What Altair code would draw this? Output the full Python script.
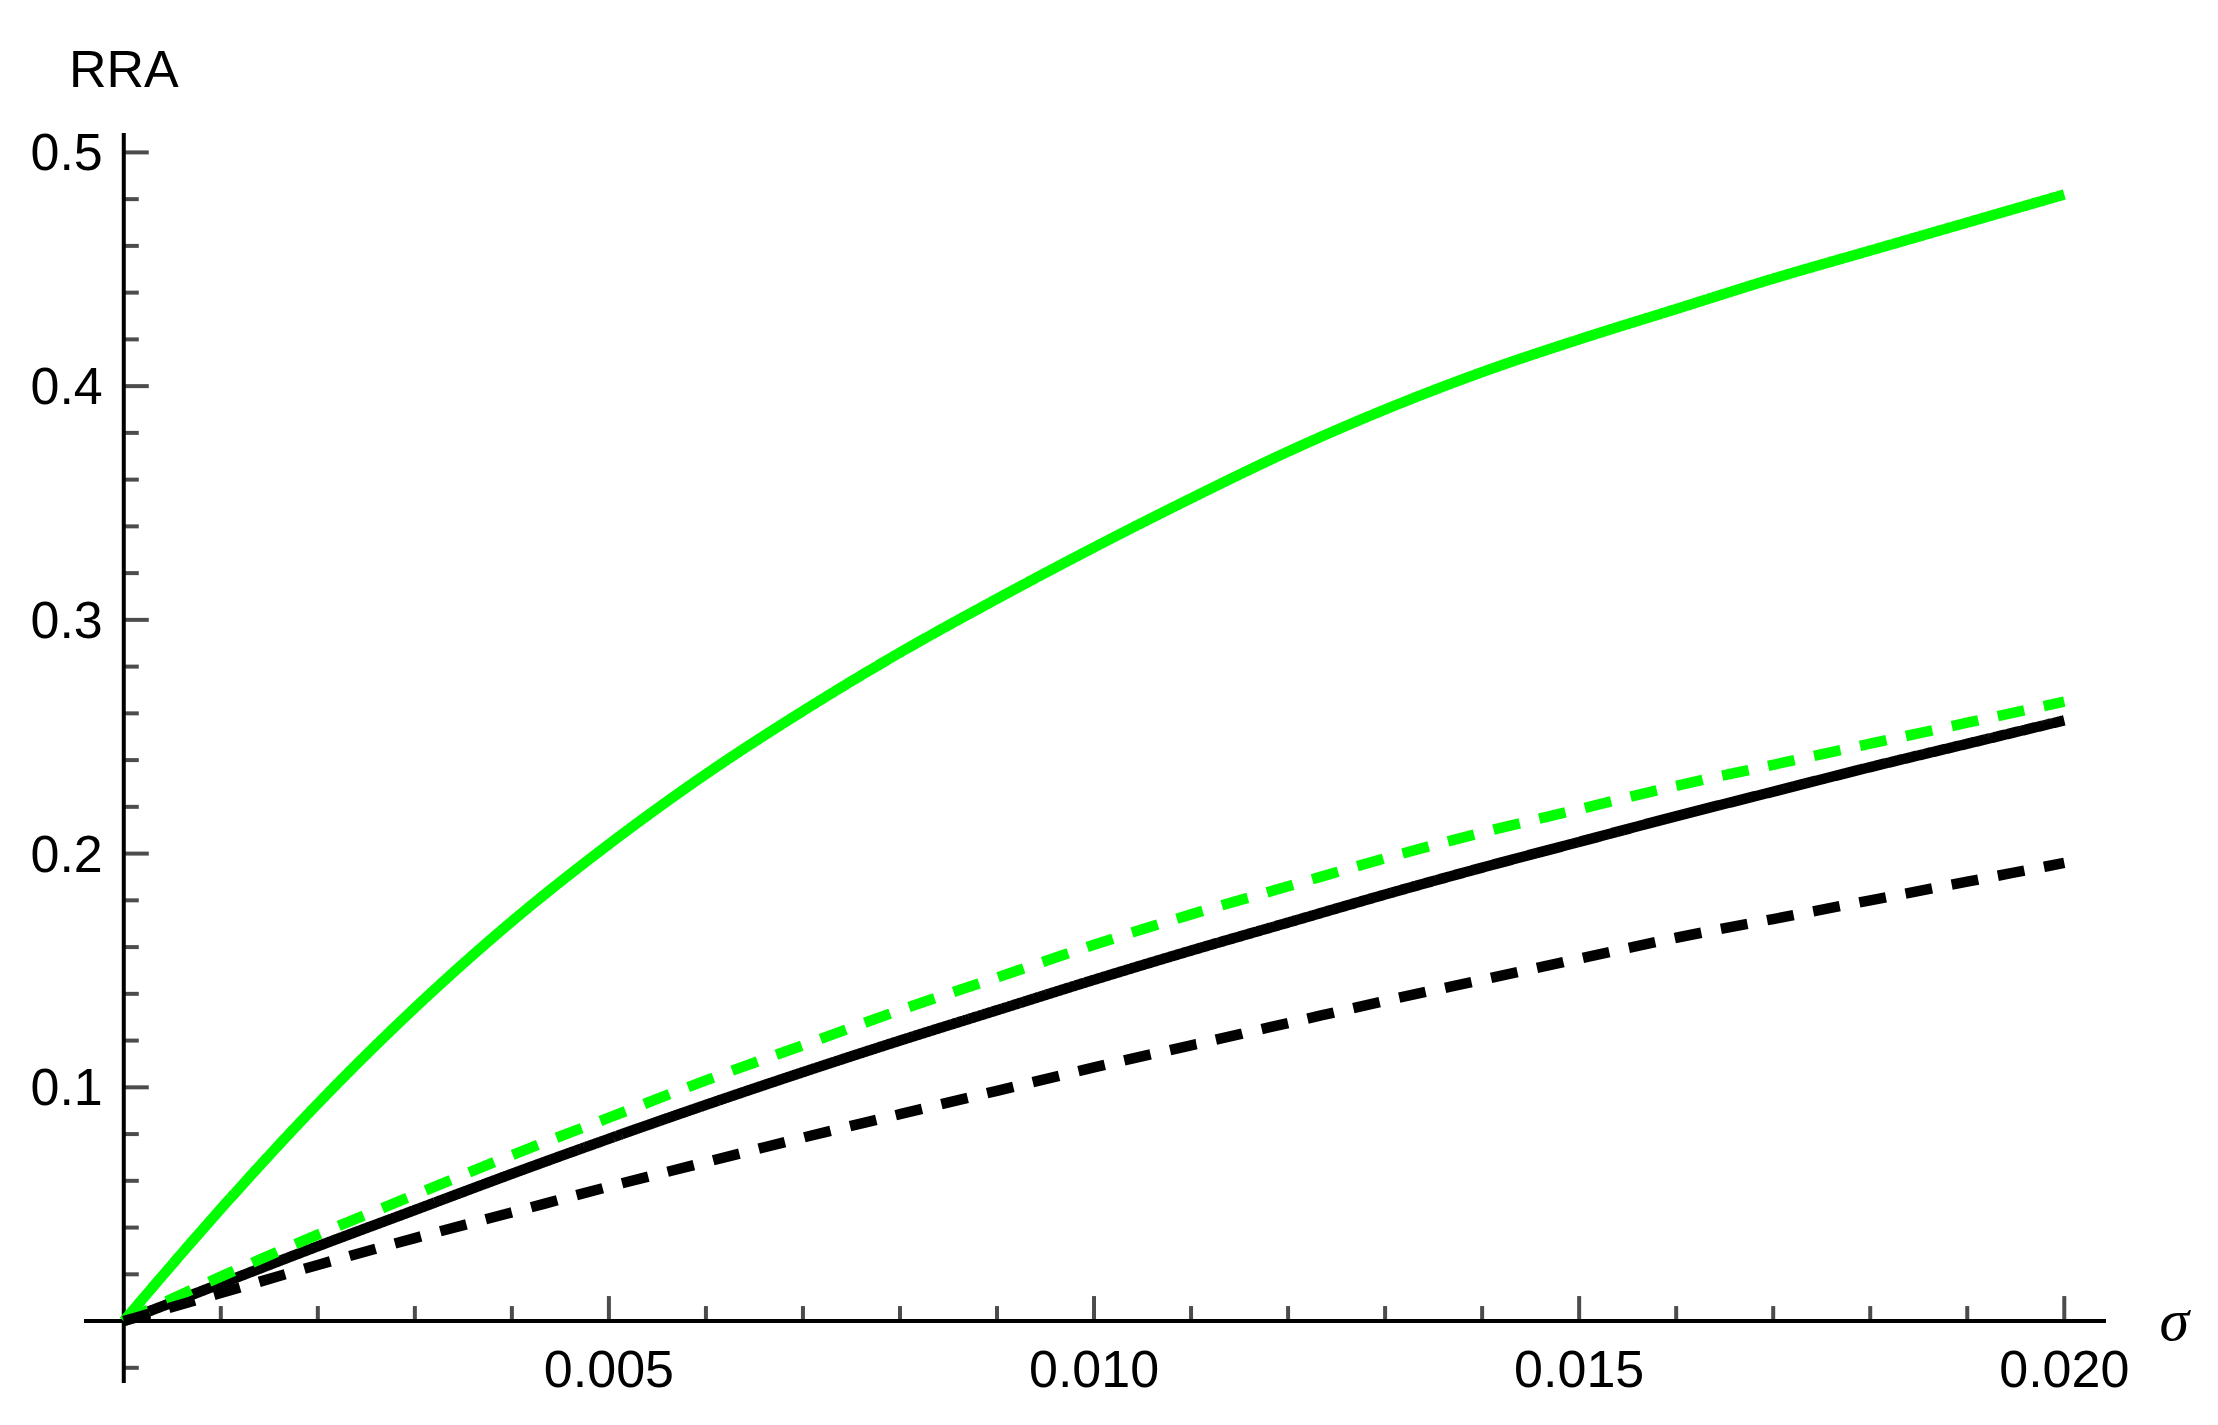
import altair as alt
import pandas as pd

# ---- data ----
sigma = [0.000, 0.001, 0.002, 0.003, 0.004, 0.005, 0.006, 0.007, 0.008, 0.009, 0.010,
         0.011, 0.012, 0.013, 0.014, 0.015, 0.016, 0.017, 0.018, 0.019, 0.020]
green_solid = [0, 0.048, 0.093, 0.134, 0.171, 0.204, 0.234, 0.261, 0.286, 0.309, 0.331,
               0.352, 0.372, 0.390, 0.406, 0.420, 0.433, 0.446, 0.458, 0.470, 0.482]
green_dashed = [0, 0.019, 0.037, 0.054, 0.071, 0.087, 0.103, 0.118, 0.133, 0.147, 0.161,
                0.174, 0.186, 0.198, 0.209, 0.219, 0.229, 0.238, 0.247, 0.256, 0.265]
black_solid = [0, 0.016, 0.032, 0.0475, 0.063, 0.078, 0.0925, 0.1065, 0.120, 0.133, 0.146,
               0.1585, 0.1705, 0.1825, 0.194, 0.205, 0.216, 0.2265, 0.237, 0.247, 0.257]
black_dashed = [0, 0.012, 0.024, 0.0355, 0.0465, 0.0575, 0.068, 0.0785, 0.0885, 0.0985, 0.1085,
                0.118, 0.1275, 0.137, 0.146, 0.155, 0.164, 0.172, 0.180, 0.188, 0.196]

series_names = ["green solid", "black solid", "green dashed", "black dashed"]
series_values = [green_solid, black_solid, green_dashed, black_dashed]
series_colors = ["#00ff00", "#000000", "#00ff00", "#000000"]
series_dash = [[1, 0], [1, 0], [27, 20], [27, 20]]

x_major_ticks = [0.005, 0.010, 0.015, 0.020]
x_major_labels = ["0.005", "0.010", "0.015", "0.020"]
x_minor_ticks = [0.001, 0.002, 0.003, 0.004, 0.006, 0.007, 0.008, 0.009,
                 0.011, 0.012, 0.013, 0.014, 0.016, 0.017, 0.018, 0.019]
y_major_ticks = [0.1, 0.2, 0.3, 0.4, 0.5]
y_major_labels = ["0.1", "0.2", "0.3", "0.4", "0.5"]
y_minor_ticks = [-0.02, 0.02, 0.04, 0.06, 0.08, 0.12, 0.14, 0.16, 0.18, 0.22, 0.24, 0.26, 0.28,
                 0.32, 0.34, 0.36, 0.38, 0.42, 0.44, 0.46, 0.48]

x_domain = [-0.00041, 0.02043]
y_domain = [-0.0265, 0.5083]
W, H = 2022, 1250
FONT = "Liberation Sans"
AX_W = 4

rows = []
for name, vals in zip(series_names, series_values):
    for s, v in zip(sigma, vals):
        rows.append({"sigma": s, "rra": v, "series": name})
df = pd.DataFrame(rows)

xs = alt.Scale(domain=x_domain, nice=False, zero=False)
ys = alt.Scale(domain=y_domain, nice=False, zero=False)

def X(field="x"):
    return alt.X(f"{field}:Q", scale=xs, axis=None)

def Y(field="y"):
    return alt.Y(f"{field}:Q", scale=ys, axis=None)

lines = alt.Chart(df).mark_line(strokeWidth=10.5, clip=False, interpolate="monotone").encode(
    x=alt.X("sigma:Q", scale=xs, axis=None),
    y=alt.Y("rra:Q", scale=ys, axis=None),
    color=alt.Color("series:N", scale=alt.Scale(domain=series_names, range=series_colors), legend=None),
    strokeDash=alt.StrokeDash("series:N", scale=alt.Scale(domain=series_names, range=series_dash), legend=None),
    detail="series:N",
)

# axis lines
x_axis_line = alt.Chart(pd.DataFrame({"y": [0.0]})).mark_rule(color="black", strokeWidth=AX_W).encode(
    x=alt.value(0), x2=alt.value(W), y=Y())
y_axis_line = alt.Chart(pd.DataFrame({"x": [0.0]})).mark_rule(color="black", strokeWidth=AX_W).encode(
    x=X(), y=alt.value(0), y2=alt.value(H))

zero_df = lambda vals: pd.DataFrame({"v": vals, "zero": [0.0] * len(vals)})

# y ticks (pointing right from the y axis)
y_major = alt.Chart(zero_df(y_major_ticks)).mark_tick(
    orient="horizontal", size=25, thickness=AX_W, color="black", xOffset=12.5
).encode(x=X("zero"), y=Y("v"))
y_minor = alt.Chart(zero_df(y_minor_ticks)).mark_tick(
    orient="horizontal", size=15, thickness=AX_W, color="black", xOffset=7.5
).encode(x=X("zero"), y=Y("v"))

# x ticks (pointing up from the x axis)
x_major = alt.Chart(zero_df(x_major_ticks)).mark_tick(
    orient="vertical", size=25, thickness=AX_W, color="black", yOffset=-12.5
).encode(x=X("v"), y=Y("zero"))
x_minor = alt.Chart(zero_df(x_minor_ticks)).mark_tick(
    orient="vertical", size=15, thickness=AX_W, color="black", yOffset=-7.5
).encode(x=X("v"), y=Y("zero"))

# tick labels
y_lab = alt.Chart(pd.DataFrame({"v": y_major_ticks, "t": y_major_labels, "zero": [0.0] * 5})).mark_text(
    font=FONT, fontSize=52, align="right", baseline="alphabetic", dx=-21, dy=18, color="black"
).encode(x=X("zero"), y=Y("v"), text="t:N")
x_lab = alt.Chart(pd.DataFrame({"v": x_major_ticks, "t": x_major_labels, "zero": [0.0] * 4})).mark_text(
    font=FONT, fontSize=52, align="center", baseline="alphabetic", dy=66, color="black"
).encode(x=X("v"), y=Y("zero"), text="t:N")

# axis titles
rra = alt.Chart(pd.DataFrame({"x": [0.0], "t": ["RRA"]})).mark_text(
    font=FONT, fontSize=52, align="center", baseline="alphabetic", color="black"
).encode(x=X(), y=alt.value(-46), text="t:N")
sig = alt.Chart(pd.DataFrame({"x": [0.020], "y": [0.0], "t": ["σ"]})).mark_text(
    font="Liberation Serif", fontStyle="italic", fontSize=60, align="center", baseline="alphabetic",
    dx=110, dy=19, color="black"
).encode(x=X(), y=Y(), text="t:N")

chart = alt.layer(
    x_axis_line, y_axis_line, y_major, y_minor, x_major, x_minor, y_lab, x_lab, rra, sig, lines
).properties(
    width=W, height=H,
    autosize=alt.AutoSizeParams(type="none"),
    padding={"left": 76, "top": 125, "right": 100, "bottom": 40},
    background="white",
).configure_view(stroke=None)

chart.save("out.html", embed_options={"renderer": "svg", "actions": False})
